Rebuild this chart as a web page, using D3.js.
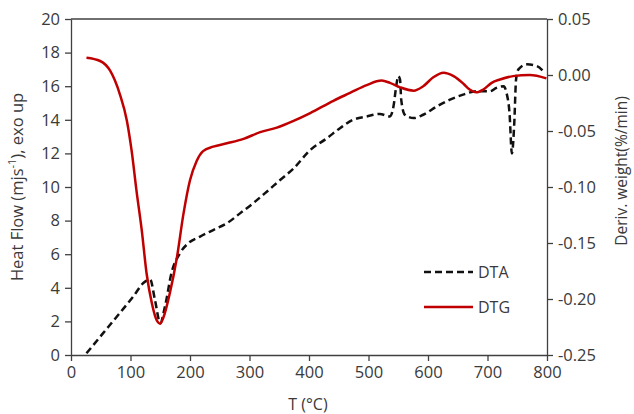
<!DOCTYPE html>
<html>
<head>
<meta charset="utf-8">
<script src="https://cdn.jsdelivr.net/npm/d3@7/dist/d3.min.js"></script>
<style>
  html, body { margin: 0; padding: 0; background: #fff; }
  svg { display: block; }
  .tick text { font-family: "Open Sans", "Noto Sans", sans-serif; font-size: 16.5px; fill: #3a3a3a; }
  .title { font-family: "Open Sans", "Noto Sans", sans-serif; font-size: 16px; fill: #3a3a3a; }
</style>
</head>
<body>
<svg id="chart" width="634" height="414"></svg>
<script>
// Temperature (°C) and DTA heat flow (left axis)
const dtaT = [26, 54, 82, 105, 122, 133, 141, 150, 158, 169, 183, 197, 217, 239, 262, 284, 306, 329, 351, 374, 402, 430, 452, 474, 497, 519, 536, 542, 547, 550, 553, 555, 561, 576, 592, 615, 637, 659, 682, 696, 704, 715, 727, 732, 737, 741, 745, 748, 752, 766, 783, 796];
const dtaHeat = [0.1, 1.3, 2.5, 3.5, 4.3, 4.5, 3.3, 1.9, 2.9, 4.9, 6.05, 6.65, 7.05, 7.44, 7.84, 8.43, 9.03, 9.72, 10.4, 11.1, 12.2, 12.9, 13.5, 14.0, 14.2, 14.35, 14.2, 14.8, 16.1, 16.6, 16.4, 15.2, 14.3, 14.1, 14.3, 14.8, 15.2, 15.5, 15.7, 15.7, 15.7, 15.9, 16.0, 15.6, 14.4, 12.0, 13.8, 16.4, 17.0, 17.3, 17.2, 16.8];

// Temperature (°C) and DTG derivative weight (right axis)
const dtgT = [26, 49, 66, 82, 94, 102, 110, 119, 127, 136, 144, 150, 155, 166, 178, 189, 200, 211, 222, 239, 262, 290, 318, 346, 374, 402, 441, 469, 497, 522, 536, 553, 576, 592, 609, 626, 643, 660, 670, 681, 693, 707, 721, 743, 771, 799];
const dtgDeriv = [0.0154, 0.0125, 0.0036, -0.017, -0.041, -0.068, -0.103, -0.139, -0.177, -0.204, -0.219, -0.222, -0.217, -0.195, -0.163, -0.124, -0.094, -0.077, -0.068, -0.064, -0.061, -0.057, -0.051, -0.047, -0.041, -0.034, -0.023, -0.016, -0.009, -0.005, -0.007, -0.011, -0.014, -0.010, -0.002, 0.002, -0.001, -0.008, -0.013, -0.0155, -0.013, -0.007, -0.004, -0.001, 0.000, -0.003];

// Axis ticks
const xTicks = [0, 100, 200, 300, 400, 500, 600, 700, 800];
const leftTicks = [0, 2, 4, 6, 8, 10, 12, 14, 16, 18, 20];
const rightTicks = [-0.25, -0.20, -0.15, -0.10, -0.05, 0.00, 0.05];

const svg = d3.select("#chart");
const plotLeft = 71, plotRight = 547, plotTop = 19, plotBottom = 355;

const x = d3.scaleLinear().domain([0, 800]).range([plotLeft, plotRight]);
const yL = d3.scaleLinear().domain([0, 20]).range([plotBottom, plotTop]);
const yR = d3.scaleLinear().domain([-0.25, 0.05]).range([plotBottom, plotTop]);

const axisColor = "#404040";

// Frame top line
svg.append("line")
  .attr("x1", plotLeft).attr("x2", plotRight).attr("y1", plotTop).attr("y2", plotTop)
  .attr("stroke", axisColor).attr("stroke-width", 1.3);

const gx = svg.append("g").attr("transform", `translate(0,${plotBottom})`)
  .call(d3.axisBottom(x).tickValues(xTicks).tickSize(6).tickSizeOuter(0).tickPadding(5));
const gl = svg.append("g").attr("transform", `translate(${plotLeft},0)`)
  .call(d3.axisLeft(yL).tickValues(leftTicks).tickSize(6).tickSizeOuter(0).tickPadding(5));
const gr = svg.append("g").attr("transform", `translate(${plotRight},0)`)
  .call(d3.axisRight(yR).tickValues(rightTicks).tickSize(6).tickSizeOuter(0).tickPadding(5)
    .tickFormat(d => (Math.abs(d) < 1e-9 ? 0 : d).toFixed(2)));

[gx, gl, gr].forEach(g => {
  g.select(".domain").attr("stroke", axisColor).attr("stroke-width", 1.3);
  g.selectAll(".tick line").attr("stroke", axisColor).attr("stroke-width", 1.3);
});

// Curves
const dtaLine = d3.line().x(d => x(d[0])).y(d => yL(d[1])).curve(d3.curveMonotoneX);
const dtgLine = d3.line().x(d => x(d[0])).y(d => yR(d[1])).curve(d3.curveMonotoneX);

svg.append("path")
  .datum(dtaT.map((t, i) => [t, dtaHeat[i]]))
  .attr("d", dtaLine)
  .attr("fill", "none").attr("stroke", "#111").attr("stroke-width", 2.5)
  .attr("stroke-dasharray", "7,4");

svg.append("path")
  .datum(dtgT.map((t, i) => [t, dtgDeriv[i]]))
  .attr("d", dtgLine)
  .attr("fill", "none").attr("stroke", "#c00000").attr("stroke-width", 2.5);

// Legend
const legend = svg.append("g");
legend.append("line").attr("x1", 424).attr("x2", 473).attr("y1", 272).attr("y2", 272)
  .attr("stroke", "#111").attr("stroke-width", 2.5).attr("stroke-dasharray", "7,4");
legend.append("text").attr("class", "title").attr("x", 478).attr("y", 278).text("DTA");
legend.append("line").attr("x1", 424).attr("x2", 473).attr("y1", 307).attr("y2", 307)
  .attr("stroke", "#c00000").attr("stroke-width", 2.5);
legend.append("text").attr("class", "title").attr("x", 478).attr("y", 313).text("DTG");

// Axis titles
svg.append("text").attr("class", "title")
  .attr("x", 308).attr("y", 410).attr("text-anchor", "middle")
  .text("T (°C)");

const lt = svg.append("text").attr("class", "title")
  .attr("style", "font-size:16.5px")
  .attr("transform", `translate(23,${(plotTop + plotBottom) / 2}) rotate(-90)`)
  .attr("text-anchor", "middle");
lt.append("tspan").text("Heat Flow (mjs");
lt.append("tspan").attr("baseline-shift", "super").attr("style", "font-size:11px").text("-1");
lt.append("tspan").text("), exo up");

svg.append("text").attr("class", "title")
  .attr("style", "font-size:15.5px")
  .attr("transform", "translate(627,171) rotate(-90)")
  .attr("text-anchor", "middle")
  .text("Deriv. weight(%/min)");
</script>
</body>
</html>
